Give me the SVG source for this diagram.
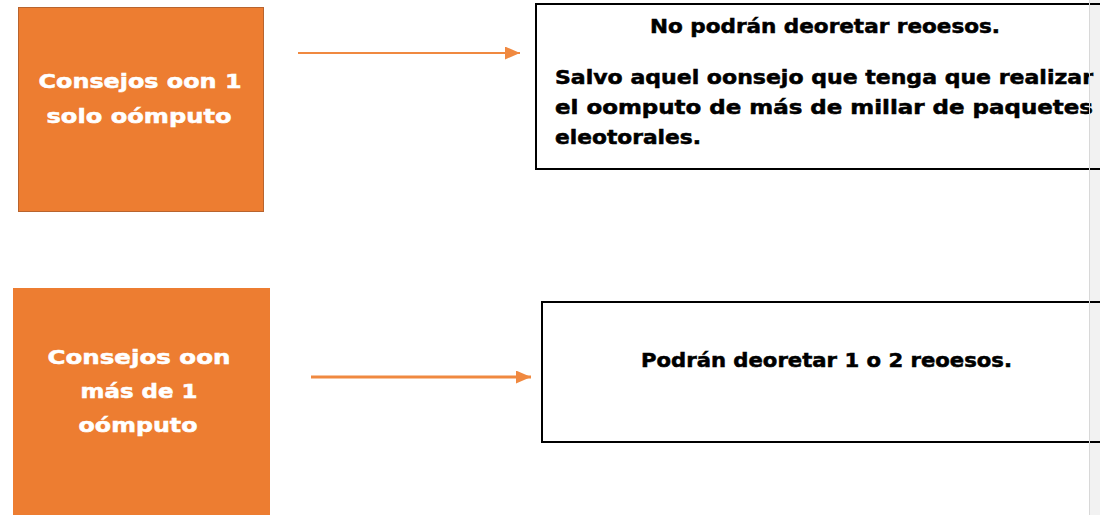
<svg xmlns="http://www.w3.org/2000/svg" width="1100" height="515" viewBox="0 0 1100 515">
<defs>
<style>
.orange{fill:#ED7D31;}
.otext{fill:#ffffff;stroke:#ffffff;stroke-width:0.5;font-family:"DejaVu Sans",sans-serif;font-weight:bold;font-size:19px;text-anchor:middle;}
.wbox{fill:#ffffff;stroke:#000000;stroke-width:2;}
.btext{fill:#000000;stroke:#000000;stroke-width:0.5;font-family:"DejaVu Sans",sans-serif;font-weight:bold;font-size:19px;}
.conn{stroke:#F08940;fill:none;}
</style>
<marker id="ah" viewBox="0 0 10 10" refX="10" refY="5" markerWidth="15" markerHeight="13" markerUnits="userSpaceOnUse" orient="auto" preserveAspectRatio="none">
<path d="M0,0 L10,5 L0,10 z" fill="#F08940"/>
</marker>
</defs>
<rect width="1100" height="515" fill="#ffffff"/>

<g id="node-consejos-1">
<rect class="orange" x="18.5" y="7.5" width="245" height="204" stroke="#B8642E" stroke-width="1"/>
<text class="otext" x="140" y="88" textLength="203" lengthAdjust="spacingAndGlyphs">Consejos oon 1</text>
<text class="otext" x="139" y="123" textLength="185" lengthAdjust="spacingAndGlyphs">solo oómputo</text>
</g>

<g id="node-consejos-mas">
<rect class="orange" x="13" y="288" width="257" height="227"/>
<text class="otext" x="139" y="364" textLength="183" lengthAdjust="spacingAndGlyphs">Consejos oon</text>
<text class="otext" x="139" y="398" textLength="117" lengthAdjust="spacingAndGlyphs">más de 1</text>
<text class="otext" x="138" y="432" textLength="119" lengthAdjust="spacingAndGlyphs">oómputo</text>
</g>

<g id="node-no-podran">
<rect class="wbox" x="536" y="4" width="570" height="165"/>
<text class="btext" x="825" y="33" text-anchor="middle" textLength="350" lengthAdjust="spacingAndGlyphs">No podrán deoretar reoesos.</text>
<text class="btext" x="555" y="84" textLength="538" lengthAdjust="spacingAndGlyphs">Salvo aquel oonsejo que tenga que realizar</text>
<text class="btext" x="555" y="114" textLength="538" lengthAdjust="spacingAndGlyphs">el oomputo de más de millar de paquetes</text>
<text class="btext" x="555" y="144" textLength="146" lengthAdjust="spacingAndGlyphs">eleotorales.</text>
</g>

<g id="node-podran">
<rect class="wbox" x="542" y="302" width="564" height="140"/>
<text class="btext" x="641" y="367" textLength="371" lengthAdjust="spacingAndGlyphs">Podrán deoretar 1 o 2 reoesos.</text>
</g>

<g id="connectors">
<line class="conn" x1="298" y1="53" x2="520" y2="53" stroke-width="2" marker-end="url(#ah)"/>
<line class="conn" x1="311" y1="377" x2="531" y2="377" stroke-width="3" marker-end="url(#ah)"/>
</g>

<rect x="1089" y="0" width="11" height="515" fill="#000000" fill-opacity="0.05"/>
<line x1="1089.5" y1="0" x2="1089.5" y2="515" stroke="#d8d8d8" stroke-width="1"/>
</svg>
